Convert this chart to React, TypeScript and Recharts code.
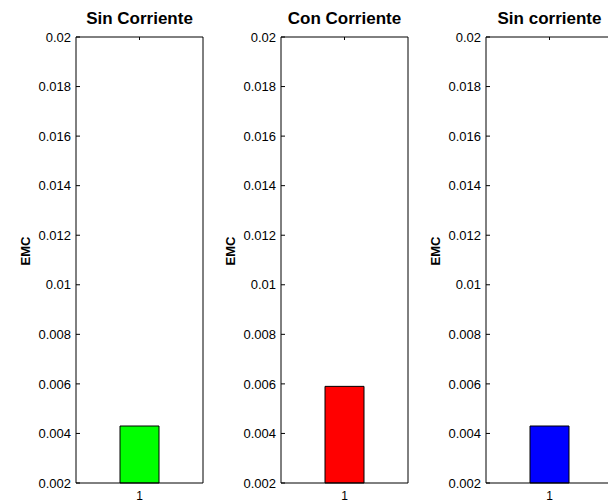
import React from 'react';
import { BarChart, Bar, XAxis, YAxis } from 'recharts';

const categories = ['1'];
const titles = ['Sin Corriente', 'Con Corriente', 'Sin corriente'];
const sinCorriente = [0.0043];
const conCorriente = [0.0059];
const sinCorriente2 = [0.0043];
const yTicks = [0.002, 0.004, 0.006, 0.008, 0.01, 0.012, 0.014, 0.016, 0.018, 0.02];
const barColors = ['#00ff00', '#ff0000', '#0000ff'];

const FONT = '"Liberation Sans", Arial, sans-serif';
const AXIS_W = 76;
const PLOT_W = 127;
const PLOT_TOP = 37;
const PANEL_STEP = 205;

function LeftTick({ x, y, payload }: any) {
  return (
    <g>
      <line x1={x + 5} x2={x + 9} y1={y} y2={y} stroke="#000" />
      <text x={x} y={y} dy="0.36em" textAnchor="end" fontSize={13} fontFamily={FONT} fill="#000">
        {String(payload.value)}
      </text>
    </g>
  );
}

function RightTick({ x, y }: any) {
  return <line x1={x - 4} x2={x} y1={y} y2={y} stroke="#000" />;
}

function BottomTick({ x, y, payload }: any) {
  return (
    <text x={x} y={y + 17} textAnchor="middle" fontSize={12} fontFamily={FONT} fill="#000">
      {payload.value}
    </text>
  );
}

function TopTick({ x, y }: any) {
  return <line x1={x} x2={x} y1={y} y2={y + 3} stroke="#000" />;
}

// rotated axis title, left of the tick labels and a little above the axis centre
function YLabel({ viewBox }: any) {
  const cx = viewBox.x + 30;
  const cy = viewBox.y + viewBox.height / 2 - 9;
  return (
    <text
      x={cx}
      y={cy}
      transform={`rotate(-90, ${cx}, ${cy})`}
      textAnchor="middle"
      fontSize={13}
      fontWeight="bold"
      fontFamily={FONT}
      fill="#000"
    >
      EMC
    </text>
  );
}

function Panel({ title, values, color }: { title: string; values: number[]; color: string }) {
  const data = categories.map((c, i) => ({ name: c, emc: values[i] }));
  return (
    <BarChart
      width={AXIS_W + PLOT_W + 1}
      height={503}
      data={data}
      margin={{ top: PLOT_TOP - 1, right: 0, left: 0, bottom: 0 }}
      barSize={39}
    >
      <XAxis
        xAxisId="bottom"
        dataKey="name"
        height={20}
        stroke="#000"
        tickLine={false}
        tickSize={0}
        tickMargin={0}
        tick={<BottomTick />}
      />
      <XAxis
        xAxisId="top"
        dataKey="name"
        orientation="top"
        height={1}
        stroke="#000"
        tickLine={false}
        tickSize={0}
        tickMargin={0}
        tick={<TopTick />}
        label={{
          value: title,
          position: 'top',
          offset: 12,
          fontSize: 17,
          fontWeight: 'bold',
          fontFamily: FONT,
          fill: '#000',
        }}
      />
      <YAxis
        yAxisId="left"
        type="number"
        domain={[0.002, 0.02]}
        ticks={yTicks}
        width={AXIS_W}
        stroke="#000"
        tickLine={false}
        tickSize={0}
        tickMargin={5}
        tick={<LeftTick />}
        label={<YLabel />}
      />
      <YAxis
        yAxisId="right"
        orientation="right"
        type="number"
        domain={[0.002, 0.02]}
        ticks={yTicks}
        width={1}
        stroke="#000"
        tickLine={false}
        tickSize={0}
        tickMargin={0}
        tick={<RightTick />}
      />
      <Bar
        dataKey="emc"
        xAxisId="bottom"
        yAxisId="left"
        fill={color}
        stroke="#000"
        strokeWidth={1}
        isAnimationActive={false}
      />
    </BarChart>
  );
}

export default function App() {
  const series = [sinCorriente, conCorriente, sinCorriente2];
  return (
    <div
      style={{
        position: 'absolute',
        left: 0,
        top: 0,
        width: 608,
        height: 503,
        overflow: 'hidden',
        background: '#fff',
      }}
    >
      {series.map((values, i) => (
        <div key={i} style={{ position: 'absolute', left: i * PANEL_STEP, top: 0 }}>
          <Panel title={titles[i]} values={values} color={barColors[i]} />
        </div>
      ))}
    </div>
  );
}
